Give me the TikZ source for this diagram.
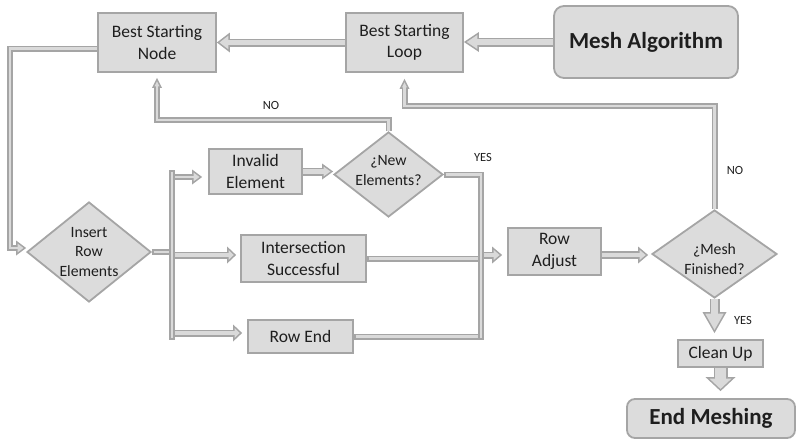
\documentclass[tikz,border=0pt]{standalone}
\usepackage{fontspec}
\setmainfont{Carlito}
\usetikzlibrary{shapes.geometric,arrows.meta}
\definecolor{bordc}{HTML}{A5A5A5}
\definecolor{boxc}{HTML}{DCDCDC}
\definecolor{pipec}{HTML}{A5A5A5}
\definecolor{pipef}{HTML}{DADADA}
\definecolor{txtc}{HTML}{1E1E1E}
\newcommand\bdw{1.6}
\newcommand\bxfnt{\fontsize{17.5}{21.5}\selectfont}
\newcommand\diafnt{\fontsize{15.7}{19.3}\selectfont}
\newcommand\bigfnt{\fontsize{23}{27}\selectfont\bfseries}
\newcommand\lblfnt{\fontsize{12.5}{15}\selectfont}
\newcommand\blockarrow[5]{%
 \pgfmathsetmacro\baW{#1}\pgfmathsetmacro\baH{#2}\pgfmathsetmacro\baL{#3}\pgfmathsetmacro\baG{#4}%
 \pgfmathsetmacro\baIW{\baW-2*\bdw}%
 \pgfmathsetmacro\baTh{atan(\baH/(2*\baL))}%
 \pgfmathsetmacro\baTs{\bdw/sin(\baTh)}%
 \pgfmathsetmacro\baIL{\baL-\bdw-\baTs}%
 \pgfmathsetmacro\baIH{\baH*\baIL/\baL}%
 \pgfmathsetmacro\baIG{\baG+\baTs}%
 \draw[pipec, line width=\baW pt, shorten >=\baG pt, -{Triangle[length=\baL pt,width=\baH pt,line width=0pt]}] #5;
 \draw[pipef, line width=\baIW pt, shorten >=\baIG pt, -{Triangle[length=\baIL pt,width=\baIH pt,line width=0pt]}] #5;
}
\newcommand\blockline[2]{%
 \pgfmathsetmacro\blW{#1}\pgfmathsetmacro\blIW{\blW-2*\bdw}%
 \draw[pipec, line width=\blW pt] #2;
 \draw[pipef, line width=\blIW pt, shorten <=\bdw pt, shorten >=\bdw pt] #2;
}
\pgfdeclarelayer{bg}
\pgfsetlayers{bg,main}
\begin{document}
\begin{tikzpicture}[x=1pt,y=-1pt,
  box/.style={draw=bordc, fill=boxc, line width=1.8pt, inner sep=0pt, align=center, font=\bxfnt, text=txtc},
  dia/.style={diamond, draw=bordc, fill=boxc, line width=1.8pt, inner sep=0pt},
  dtext/.style={align=center, font=\diafnt, text=txtc, inner sep=0pt},
  lbl/.style={font=\lblfnt, text=txtc, inner sep=0pt}]
\useasboundingbox (0,0) rectangle (796,439);
% nodes
\node[box, minimum width=118pt, minimum height=59pt] (bsn) at (157,42.5) {Best Starting\\Node};
\node[box, minimum width=117pt, minimum height=59pt] (bsl) at (404.5,42.5) {Best Starting\\Loop};
\node[box, rounded corners=10pt, minimum width=184pt, minimum height=72pt, font=\bigfnt] (ma) at (646,42) {Mesh Algorithm};
\node[dia, minimum width=124pt, minimum height=100pt] (ire) at (89,252) {};
\node[dtext] (iret) at (89,252) {Insert\\Row\\Elements};
\node[box, minimum width=93pt, minimum height=45pt] (ie) at (255.5,171.5) {Invalid\\Element};
\node[box, minimum width=125pt, minimum height=47pt] (is) at (303.5,258.5) {Intersection\\Successful};
\node[box, minimum width=105pt, minimum height=33pt] (re) at (300.5,336.5) {Row End};
\node[dia, minimum width=109pt, minimum height=85pt] (ne) at (388.5,174.5) {};
\node[dtext] (net) at (388.5,170.5) {¿New\\Elements?};
\node[box, minimum width=93pt, minimum height=47pt] (ra) at (554.5,251.5) {Row\\Adjust};
\node[dia, minimum width=125pt, minimum height=88pt] (mf) at (714.5,254) {};
\node[dtext] (mft) at (714.5,259) {¿Mesh\\Finished?};
\node[box, minimum width=85pt, minimum height=27pt] (cu) at (720.5,353.5) {Clean Up};
\node[box, rounded corners=8pt, minimum width=168pt, minimum height=39pt, font=\bigfnt] (em) at (711,418.5) {End Meshing};
% labels
\node[lbl] (no1) at (271,105) {NO};
\node[lbl] (no2) at (735,170) {NO};
\node[lbl] (yes1) at (483,157) {YES};
\node[lbl] (yes2) at (743,320) {YES};
% helper coordinates
\coordinate (lb) at (10,248);
\coordinate (bl1) at (172,170);
\coordinate (bl2) at (172,340);
\coordinate (br2) at (481,340);
\coordinate (n1) at (0,120);
\coordinate (n2) at (0,106);
\coordinate (ieIn) at ([yshift=-5.5pt]ie.west);
\coordinate (isIn) at ([yshift=3.5pt]is.west);
\coordinate (reIn) at ([yshift=3.5pt]re.west);
\coordinate (raIn) at ([yshift=-3.5pt]ra.west);
\begin{pgfonlayer}{bg}
\blockarrow{9}{20}{15}{0}{(ma.west) -- (ma.west -| bsl.east)}
\blockarrow{8}{20}{13}{0}{(bsl.west) -- (bsl.west -| bsn.east)}
\blockarrow{6}{15}{10}{0}{([yshift=-6pt]bsn.west) -| (lb) -- (lb -| ire.west)}
\blockline{6}{(ire.east) -- (ire.east -| bl1)}
\blockarrow{6}{15}{10}{6}{(ieIn -| bl1) -- (ieIn)}
\blockarrow{7}{17}{9}{4}{(isIn -| bl1) -- (isIn)}
\blockarrow{7}{17}{9}{5}{(reIn -| bl1) -- (reIn)}
\blockline{6}{(bl1) -- (bl2)}
\blockarrow{8}{16}{11}{0}{(ie.east) -- (ie.east -| ne.west)}
\blockarrow{6}{10}{10}{5}{(ne.north) -- (ne.north |- n1) -| (bsn.south)}
\blockline{6}{(is.east) -- (is.east -| br2)}
\blockline{6}{(re.east) -- (re.east -| br2)}
\blockarrow{7}{17}{10}{5}{(raIn -| br2) -- (raIn)}
\blockline{6}{(ne.east) -| (br2)}
\blockarrow{8}{17}{10}{3}{(raIn -| ra.east) -- (raIn -| mf.west)}
\blockarrow{6}{10}{10}{6}{(mf.north) -- (mf.north |- n2) -| (bsl.south)}
\blockarrow{10}{24}{21}{6}{(mf.south) -- (mf.south |- cu.north)}
\blockarrow{14}{30}{14}{7}{(cu.south) -- (cu.south |- em.north)}
\end{pgfonlayer}
\end{tikzpicture}
\end{document}
